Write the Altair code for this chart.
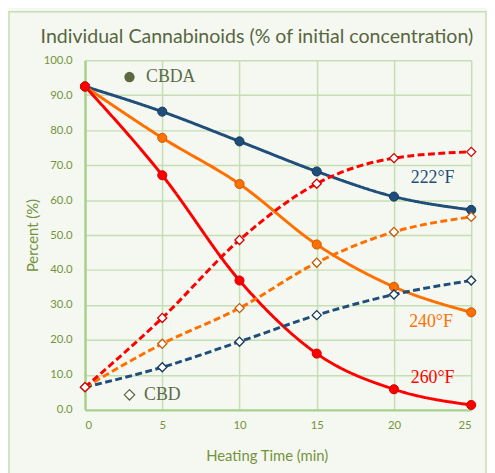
import altair as alt
import pandas as pd

times = [0, 5, 10, 15, 20, 25]
temps = ["222°F", "240°F", "260°F"]
cbda_222 = [92.5, 85.3, 76.8, 68.2, 61.0, 57.2]
cbda_240 = [92.5, 77.8, 64.6, 47.3, 35.2, 27.9]
cbda_260 = [92.5, 67.1, 37.0, 16.1, 5.9, 1.4]
cbd_222 = [6.5, 12.2, 19.5, 27.1, 33.0, 37.0]
cbd_240 = [6.5, 18.9, 29.1, 42.1, 50.9, 55.2]
cbd_260 = [6.5, 26.3, 48.6, 64.7, 72.0, 73.8]
colors = ["#1F4E79", "#FF7000", "#FF0000"]
edge_colors = ["#17385A", "#C65A00", "#D00000"]
y_ticks = [0, 10, 20, 30, 40, 50, 60, 70, 80, 90, 100]
x_ticks = [0, 5, 10, 15, 20, 25]

rows = []
for temp, s in zip(temps, [cbda_222, cbda_240, cbda_260]):
    for t, v in zip(times, s):
        rows.append({"time": t, "value": v, "temp": temp, "compound": "CBDA", "key": temp + " CBDA"})
for temp, s in zip(temps, [cbd_222, cbd_240, cbd_260]):
    for t, v in zip(times, s):
        rows.append({"time": t, "value": v, "temp": temp, "compound": "CBD", "key": temp + " CBD"})
df = pd.DataFrame(rows)

label_df = pd.DataFrame({
    "temp": temps,
    "time": [22.5, 22.4, 22.5],
    "value": [66.2, 25.2, 9.0],
})
legend_df = pd.DataFrame({
    "name": ["CBDA", "CBD"],
    "time": [3.95, 3.82],
    "value": [95.2, 4.3],
})

grid_col = "#C6DEB3"
tick_col = "#76933C"

xs = alt.Scale(domain=[0, 25], nice=False)
ys = alt.Scale(domain=[0, 100], nice=False)
cs = alt.Scale(domain=temps, range=colors)

x_axis = alt.Axis(
    values=x_ticks, title="Heating Time (min)", grid=True, gridColor=grid_col, gridWidth=1.5,
    domainColor="#A9D18E", domainWidth=2.5, ticks=False, labelPadding=10, labelOverlap=False,
    labelColor=tick_col, labelFont="Lato", labelFontSize=11.5,
    titleColor=tick_col, titleFont="Lato", titleFontSize=15, titleFontWeight="normal",
    titleX=184, titleY=46, titleBaseline="middle")
y_axis = alt.Axis(
    values=y_ticks, format=".1f", title="Percent (%)", grid=True, gridColor=grid_col, gridWidth=1.5,
    domainColor="#A9D18E", domainWidth=2.5, ticks=False, labelPadding=13, labelOverlap=False,
    labelColor=tick_col, labelFont="Lato", labelFontSize=11.5,
    titleColor=tick_col, titleFont="Lato", titleFontSize=15, titleFontWeight="normal",
    titleX=-53, titleY=177, titleAngle=-90, titleBaseline="middle", titleAlign="center")

X = alt.X("time:Q", scale=xs, axis=x_axis)
Y = alt.Y("value:Q", scale=ys, axis=y_axis)

base = alt.Chart(df)

lines = base.mark_line(strokeWidth=3, interpolate="monotone").encode(
    x=X, y=Y,
    color=alt.Color("temp:N", scale=cs, legend=None),
    strokeDash=alt.StrokeDash("compound:N", scale=alt.Scale(domain=["CBDA", "CBD"], range=[[1, 0], [7, 3.5]]), legend=None),
    detail="key:N",
    order=alt.Order("time:Q"),
)

border = alt.Chart(pd.DataFrame({"a": [0]})).mark_rect(
    fill="transparent", stroke="#C5DEB5", strokeWidth=1.5
).encode(x=alt.value(-77), x2=alt.value(406), y=alt.value(-49), y2=alt.value(420))

circles = base.transform_filter(alt.datum.compound == "CBDA").mark_point(
    filled=True, size=85, shape="circle", opacity=1, strokeWidth=1
).encode(
    x=X, y=Y,
    fill=alt.Fill("temp:N", scale=cs, legend=None),
    stroke=alt.Stroke("temp:N", scale=alt.Scale(domain=temps, range=edge_colors), legend=None),
)

diamonds = base.transform_filter(alt.datum.compound == "CBD").mark_point(
    filled=False, size=85, shape="diamond", fill="white", fillOpacity=1, opacity=1, strokeWidth=1.3
).encode(
    x=X, y=Y,
    stroke=alt.Stroke("temp:N", scale=alt.Scale(domain=temps, range=["#1F4E79", "#FF7000", "#C00000"]), legend=None),
)

temp_labels = alt.Chart(label_df).mark_text(
    font="Liberation Serif", fontSize=18, align="center", baseline="middle"
).encode(
    x=X, y=Y,
    text="temp:N",
    color=alt.Color("temp:N", scale=alt.Scale(domain=temps, range=["#2E5584", "#FF7000", "#FF0000"]), legend=None),
)

legend_text = alt.Chart(legend_df).mark_text(
    font="Liberation Serif", fontSize=18, align="left", baseline="middle", color="#5C6A48"
).encode(x=X, y=Y, text="name:N")

legend_circle = alt.Chart(legend_df.iloc[[0]]).mark_point(
    filled=True, shape="circle", size=110, color="#5A6A3E", opacity=1
).encode(x=alt.value(45), y=Y)

legend_diamond = alt.Chart(legend_df.iloc[[1]]).mark_point(
    shape="diamond", size=110, stroke="#5A6A3E", fill="white", fillOpacity=1, opacity=1, strokeWidth=1.3
).encode(x=alt.value(45), y=Y)

title = alt.Chart(pd.DataFrame({"t": ["Individual Cannabinoids (% of initial concentration)"]})).mark_text(
    font="Lato", fontSize=19.8, color="#58663F", align="center", baseline="alphabetic"
).encode(x=alt.value(174), y=alt.value(-17), text="t:N")

chart = alt.layer(
    lines, border, circles, diamonds, temp_labels, legend_text, legend_circle, legend_diamond, title
).properties(
    width=391, height=354,
    autosize=alt.AutoSizeParams(type="none"),
    padding={"left": 78, "top": 50, "right": 16, "bottom": 61},
    background="#F4F8F1",
).configure_view(stroke=None)

chart.save("out.html", embed_options={"renderer": "svg", "actions": False})
